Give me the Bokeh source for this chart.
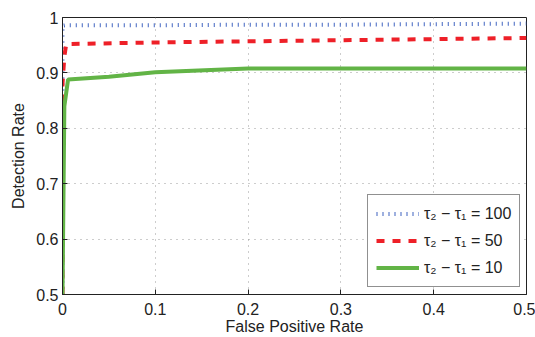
from bokeh.plotting import figure
from bokeh.models import Range1d, FixedTicker, Legend, LegendItem
from bokeh.embed import file_html
from bokeh.resources import INLINE

# data
x100 = [0.0, 0.0, 0.003, 0.1, 0.2, 0.3, 0.4, 0.5]
y100 = [0.5, 0.985, 0.986, 0.986, 0.987, 0.987, 0.988, 0.989]
x50 = [0.0, 0.0, 0.002, 0.004, 0.1, 0.2, 0.3, 0.4, 0.5]
y50 = [0.5, 0.88, 0.93, 0.952, 0.955, 0.957, 0.959, 0.961, 0.963]
x10 = [0.0, 0.002, 0.006, 0.05, 0.1, 0.2, 0.3, 0.4, 0.5]
y10 = [0.5, 0.84, 0.888, 0.893, 0.901, 0.908, 0.908, 0.908, 0.908]
labels = ["\u03c4\u2082 \u2212 \u03c4\u2081 = 100",
          "\u03c4\u2082 \u2212 \u03c4\u2081 = 50",
          "\u03c4\u2082 \u2212 \u03c4\u2081 = 10"]
xticks = [0, 0.1, 0.2, 0.3, 0.4, 0.5]
yticks = [0.5, 0.6, 0.7, 0.8, 0.9, 1.0]

FONT = "Liberation Sans"
INK = "#222222"

p = figure(width=535, height=337, output_backend="svg", toolbar_location=None,
           x_range=Range1d(0, 0.5), y_range=Range1d(0.5, 1.0),
           min_border_left=62, min_border_right=9, min_border_top=17, min_border_bottom=39)
p.background_fill_color = "white"
p.border_fill_color = "white"
p.outline_line_color = INK
p.outline_line_width = 1

l100 = p.line(x100, y100, line_color="#3f63c0", line_width=4, line_dash="1 5")
l50 = p.line(x50, y50, line_color="#ee2028", line_width=4, line_dash="8 8")
l10 = p.line(x10, y10, line_color="#62b446", line_width=4)

xa = p.xaxis[0]
ya = p.yaxis[0]
for ax in (xa, ya):
    ax.major_tick_in = 5
    ax.major_tick_out = 0
    ax.minor_tick_line_color = None
    ax.major_tick_line_color = INK
    ax.axis_line_color = INK
    ax.major_label_text_font = FONT
    ax.major_label_text_font_size = "16px"
    ax.major_label_text_color = INK
    ax.axis_label_text_font = FONT
    ax.axis_label_text_font_size = "16px"
    ax.axis_label_text_font_style = "normal"
    ax.axis_label_text_color = INK

xa.ticker = FixedTicker(ticks=xticks)
ya.ticker = FixedTicker(ticks=yticks)
xa.major_label_overrides = {0: "0", 0.1: "0.1", 0.2: "0.2", 0.3: "0.3", 0.4: "0.4", 0.5: "0.5"}
ya.major_label_overrides = {0.5: "0.5", 0.6: "0.6", 0.7: "0.7", 0.8: "0.8", 0.9: "0.9", 1.0: "1"}
xa.axis_label = "False Positive Rate"
ya.axis_label = "Detection Rate"
xa.major_label_standoff = 8
ya.major_label_standoff = 4
xa.axis_label_standoff = 0
ya.axis_label_standoff = 6

p.xgrid.ticker = FixedTicker(ticks=xticks)
p.ygrid.ticker = FixedTicker(ticks=yticks)
for g in (p.xgrid[0], p.ygrid[0]):
    g.grid_line_color = "#9a9a9a"
    g.grid_line_dash = "1 5"
    g.grid_line_width = 1

legend = Legend(items=[LegendItem(label=labels[0], renderers=[l100]),
                       LegendItem(label=labels[1], renderers=[l50]),
                       LegendItem(label=labels[2], renderers=[l10])],
                location=(305, 7), margin=0)
legend.border_line_color = INK
legend.border_line_width = 1
legend.background_fill_alpha = 1
legend.label_text_font = FONT
legend.label_text_font_size = "16px"
legend.label_text_color = INK
legend.glyph_width = 43
legend.label_standoff = 5
legend.padding = 8
legend.spacing = 6
legend.label_height = 21
legend.glyph_height = 21
p.add_layout(legend, "center")

open("out.html", "w").write(file_html(p, INLINE))
